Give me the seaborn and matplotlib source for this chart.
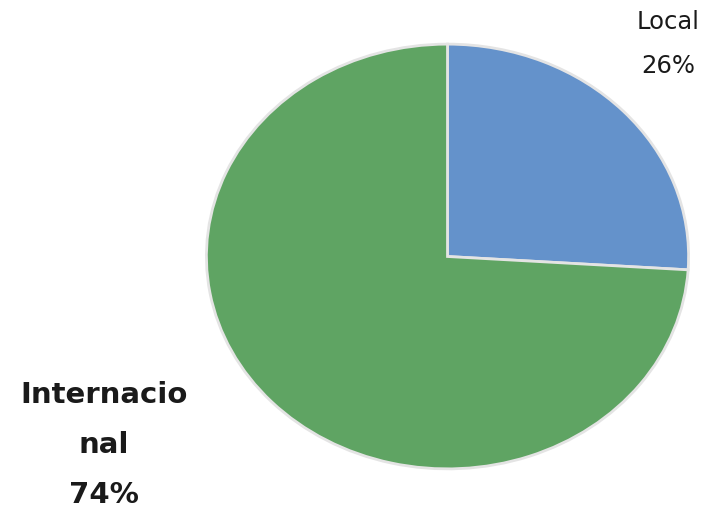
import matplotlib
matplotlib.use("Agg")
import matplotlib.pyplot as plt
import seaborn as sns

# Data
categories = ["Local", "Internacional"]
shares = [26, 74]
shown_labels = ["Local", "Internacio\nnal"]
colors = ["#6492CB", "#5FA463"]

sns.set_theme(style="white")
plt.rcParams['font.family'] = ['DejaVu Sans']

fig = plt.figure(figsize=(7.13, 5.10), dpi=100)
ax = fig.add_axes([204 / 713, 38 / 510, 487 / 713, 429 / 510])

ax.pie(shares, colors=colors, startangle=90, counterclock=False,
       wedgeprops=dict(edgecolor="#E4E4E4", linewidth=2))
ax.set_aspect("auto")
ax.set_xlim(-1.01, 1.01)
ax.set_ylim(-1.01, 1.01)
ax.axis("off")

# Labels (positions in figure pixels), one text per line
total = sum(shares)
pct = [f"{round(v / total * 100)}%" for v in shares]


def put_lines(lines, x, y0, step, **kw):
    for i, line in enumerate(lines):
        fig.text(x / 713, 1 - (y0 + i * step) / 510, line,
                 ha="center", va="center", color="#1a1a1a", **kw)


put_lines(shown_labels[0].split("\n") + [pct[0]], 668, 22, 44, fontsize=17.5)
put_lines(shown_labels[1].split("\n") + [pct[1]], 104, 395, 50,
          fontsize=21, fontweight="bold")

fig.savefig("out.png", dpi=100)
plt.close(fig)
